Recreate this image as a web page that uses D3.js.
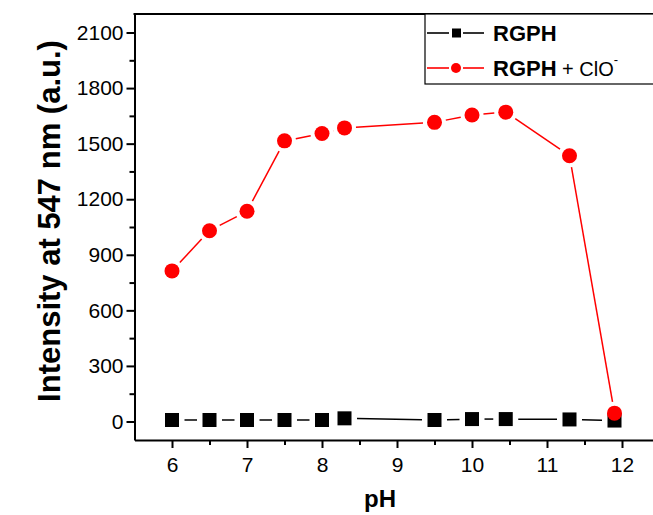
<!DOCTYPE html>
<html>
<head>
<meta charset="utf-8">
<script src="https://cdn.jsdelivr.net/npm/d3@7"></script>
<style>
  body { margin: 0; background: #fff; }
  svg { display: block; }
  .chart-axis text { font-family: "Liberation Sans", Arial, sans-serif; font-size: 21px; fill: #000; }
  .chart-axis line, .chart-axis path { stroke: #000; stroke-width: 2; }
</style>
</head>
<body>
<svg id="ph-chart"></svg>
<script>
const phValues = [6, 6.5, 7, 7.5, 8, 8.3, 9.5, 10, 10.45, 11.3, 11.9];
const rgphValues = [8, 8, 8, 8, 8, 17, 8, 13, 13, 11, 5];
const rgphClValues = [813, 1030, 1135, 1515, 1555, 1585, 1615, 1655, 1670, 1435, 45];
const xTicks = [6, 7, 8, 9, 10, 11, 12];
const xMinorTicks = [6.5, 7.5, 8.5, 9.5, 10.5, 11.5];
const yTicks = [0, 300, 600, 900, 1200, 1500, 1800, 2100];
const yMinorTicks = [150, 450, 750, 1050, 1350, 1650, 1950];

const INK = "#000";
const RED = "#ff0000";
const FONT = "\"Liberation Sans\", Arial, sans-serif";

const width = 653;
const height = 515;

const svg = d3.select("#ph-chart")
  .attr("width", width)
  .attr("height", height);

// plot frame runs off the right edge, like the cropped original
const x = d3.scaleLinear().domain([5.5, 12.5]).range([134.5, 659.5]);
const y = d3.scaleLinear().domain([-100, 2200]).range([440, 14]);

// Axes
svg.append("g")
  .attr("class", "chart-axis")
  .attr("transform", `translate(0,${y(-100)})`)
  .call(d3.axisBottom(x).tickValues(xTicks).tickSize(8).tickSizeOuter(0).tickPadding(9).tickFormat(d3.format("d")));

svg.append("g")
  .attr("class", "chart-axis")
  .attr("transform", `translate(0,${y(-100)})`)
  .call(d3.axisBottom(x).tickValues(xMinorTicks).tickSize(5).tickSizeOuter(0).tickFormat(""))
  .select(".domain").remove();

svg.append("g")
  .attr("class", "chart-axis")
  .attr("transform", `translate(${x(5.5)},0)`)
  .call(d3.axisLeft(y).tickValues(yTicks).tickSize(8).tickSizeOuter(0).tickPadding(3).tickFormat(d3.format("d")));

svg.append("g")
  .attr("class", "chart-axis")
  .attr("transform", `translate(${x(5.5)},0)`)
  .call(d3.axisLeft(y).tickValues(yMinorTicks).tickSize(5).tickSizeOuter(0).tickFormat(""))
  .select(".domain").remove();

// top border
svg.append("line")
  .attr("x1", x(5.5) - 1).attr("x2", x(12.5))
  .attr("y1", y(2200)).attr("y2", y(2200))
  .attr("stroke", INK)
  .attr("stroke-width", 2);

// Axis labels
svg.append("text")
  .attr("x", 380)
  .attr("y", 507)
  .attr("text-anchor", "middle")
  .attr("font-family", FONT)
  .attr("font-size", 24)
  .attr("font-weight", 700)
  .text("pH");

svg.append("text")
  .attr("transform", `translate(60,${(y(-100) + y(2200)) / 2 - 6}) rotate(-90)`)
  .attr("text-anchor", "middle")
  .attr("font-family", FONT)
  .attr("font-size", 31)
  .attr("font-weight", 700)
  .text("Intensity at 547 nm (a.u.)");

// Origin-style connecting lines: gaps around each marker
function drawGappedLine(values, color, gap) {
  const pts = phValues.map((p, i) => [x(p), y(values[i])]);
  const segs = [];
  for (let i = 0; i < pts.length - 1; i++) {
    const [x1, y1] = pts[i];
    const [x2, y2] = pts[i + 1];
    const len = Math.hypot(x2 - x1, y2 - y1);
    if (len <= 2 * gap) continue;
    const ux = (x2 - x1) / len, uy = (y2 - y1) / len;
    segs.push({ x1: x1 + ux * gap, y1: y1 + uy * gap, x2: x2 - ux * gap, y2: y2 - uy * gap });
  }
  svg.append("g")
    .selectAll("line")
    .data(segs)
    .join("line")
    .attr("x1", d => d.x1).attr("y1", d => d.y1)
    .attr("x2", d => d.x2).attr("y2", d => d.y2)
    .attr("stroke", color)
    .attr("stroke-width", 1.5);
}

drawGappedLine(rgphValues, INK, 12.5);
svg.append("g")
  .selectAll("rect")
  .data(rgphValues)
  .join("rect")
  .attr("x", (d, i) => x(phValues[i]) - 7)
  .attr("y", d => y(d) - 7)
  .attr("width", 14)
  .attr("height", 14)
  .attr("fill", INK);

drawGappedLine(rgphClValues, RED, 11.5);
svg.append("g")
  .selectAll("circle")
  .data(rgphClValues)
  .join("circle")
  .attr("cx", (d, i) => x(phValues[i]))
  .attr("cy", d => y(d))
  .attr("r", 7.5)
  .attr("fill", RED);

// Legend
const legend = svg.append("g");
legend.append("rect")
  .attr("x", 425).attr("y", 14)
  .attr("width", 260).attr("height", 70)
  .attr("fill", "#fff")
  .attr("stroke", INK)
  .attr("stroke-width", 1.2);

const legendItems = [
  { label: "RGPH", extra: null, color: INK, shape: "square", cy: 33 },
  { label: "RGPH", extra: " + ClO", color: RED, shape: "circle", cy: 68 }
];

legendItems.forEach(item => {
  legend.append("line")
    .attr("x1", 427).attr("x2", 449)
    .attr("y1", item.cy).attr("y2", item.cy)
    .attr("stroke", item.color).attr("stroke-width", 1.6);
  legend.append("line")
    .attr("x1", 463).attr("x2", 484)
    .attr("y1", item.cy).attr("y2", item.cy)
    .attr("stroke", item.color).attr("stroke-width", 1.6);
  if (item.shape === "square") {
    legend.append("rect")
      .attr("x", 452).attr("y", item.cy - 4.5)
      .attr("width", 9).attr("height", 9)
      .attr("fill", item.color);
  } else {
    legend.append("circle")
      .attr("cx", 456).attr("cy", item.cy)
      .attr("r", 5)
      .attr("fill", item.color);
  }
  const t = legend.append("text")
    .attr("x", 493)
    .attr("y", item.cy + 8)
    .attr("font-family", FONT)
    .attr("font-size", 22)
    .attr("fill", INK);
  t.append("tspan").attr("font-weight", 700).text(item.label);
  if (item.extra) {
    t.append("tspan").attr("font-size", 20).text(item.extra);
    t.append("tspan")
      .attr("font-size", 13)
      .attr("dy", -12)
      .text("-");
  }
});
</script>
</body>
</html>
